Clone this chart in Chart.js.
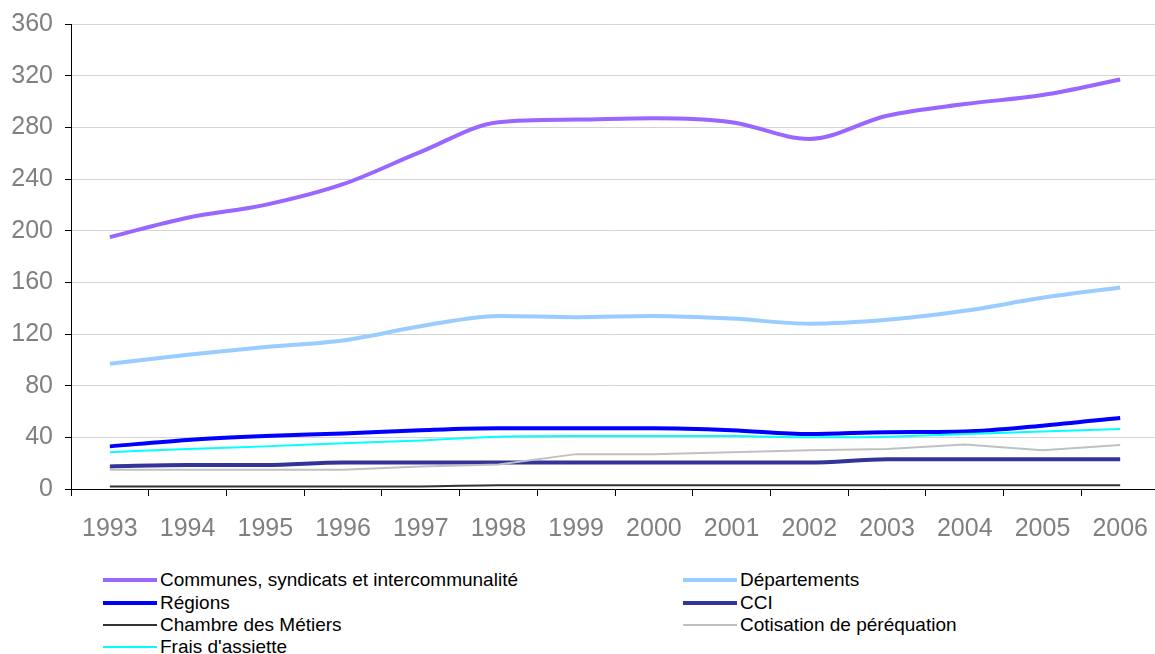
<!DOCTYPE html>
<html>
<head>
<meta charset="utf-8">
<script src="https://cdn.jsdelivr.net/npm/chart.js@4"></script>
<style>
  html, body { margin: 0; padding: 0; background: #fff; overflow: hidden; }
  #wrap { position: relative; width: 1155px; height: 654px; overflow: hidden; }
  #box { position: absolute; left: 0; top: -3px; width: 1166px; height: 563px; }
  #legend {
    position: absolute; left: 103px; top: 569px;
    display: grid; grid-template-columns: 580px 400px;
    font-family: "Liberation Sans", Arial, sans-serif; font-size: 19px; color: #000;
  }
  #legend .item { display: flex; align-items: center; height: 22.4px; }
  #legend .swatch { width: 54px; margin-right: 3px; }
</style>
</head>
<body>
<div id="wrap">
  <div id="box"><canvas id="myChart"></canvas></div>
  <div id="legend"></div>
</div>
<script>
const YEARS = [1993, 1994, 1995, 1996, 1997, 1998, 1999, 2000, 2001, 2002, 2003, 2004, 2005, 2006];

const communes = [195, 210, 220, 236, 261, 284, 286, 287, 284, 271, 289, 298, 305, 317];
const departements = [97, 104, 110, 115, 126, 134, 133, 134, 132, 128, 131, 138, 148, 156];
const regions = [33, 38, 41, 43, 45.5, 47, 47, 47, 45.5, 42.5, 44, 44.5, 49, 55];
const cci = [17.5, 18.5, 18.5, 20.5, 20.5, 20.5, 20.5, 20.5, 20.5, 20.5, 23, 23, 23, 23];
const chambre = [2, 2, 2, 2, 2, 3, 3, 3, 3, 3, 3, 3, 3, 3];
const cotisation = [15, 15, 15, 15, 17.5, 19, 27, 27, 28.5, 30, 31, 34.5, 30, 34];
const frais = [28.5, 31, 33, 35.5, 37.5, 40.5, 41, 41, 41, 40, 40.5, 42.5, 44.5, 46.5];

const Y_TICKS = [0, 40, 80, 120, 160, 200, 240, 280, 320, 360];

const toPoints = (arr) => arr.map((v, i) => ({ x: YEARS[i], y: v }));

const series = [
  { label: 'Communes, syndicats et intercommunalité', data: communes, color: '#9966ff', width: 4, smooth: true },
  { label: 'Départements', data: departements, color: '#99ccff', width: 4, smooth: true },
  { label: 'Régions', data: regions, color: '#0000ff', width: 4, smooth: true },
  { label: 'CCI', data: cci, color: '#333399', width: 4, smooth: true },
  { label: 'Chambre des Métiers', data: chambre, color: '#333333', width: 2, smooth: true },
  { label: 'Cotisation de péréquation', data: cotisation, color: '#c0c0c0', width: 2, smooth: false },
  { label: "Frais d'assiette", data: frais, color: '#00ffff', width: 2, smooth: true },
];

const tickFont = { family: '"Liberation Sans", Arial, sans-serif', size: 25 };

let ctx = document.getElementById('myChart').getContext('2d');
let myChart = new Chart(ctx, {
  type: 'line',
  data: {
    datasets: series.map((s, i) => ({
      label: s.label,
      data: toPoints(s.data),
      borderColor: s.color,
      backgroundColor: s.color,
      borderWidth: s.width,
      pointRadius: 0,
      fill: false,
      tension: s.smooth ? 0.4 : 0,
      cubicInterpolationMode: s.smooth ? 'monotone' : 'default',
      order: -i,
    })),
  },
  options: {
    responsive: true,
    maintainAspectRatio: false,
    animation: false,
    layout: { padding: { top: 21, right: 0, left: 0, bottom: 0 } },
    plugins: { legend: { display: false }, tooltip: { enabled: false } },
    scales: {
      x: {
        type: 'linear',
        min: 1992.5,
        max: 2006.5,
        afterBuildTicks: (scale) => {
          scale.ticks = YEARS.map((v) => ({ value: v }));
        },
        afterFit: (scale) => { scale.height = 71; },
        grid: {
          offset: true,
          drawOnChartArea: false,
          drawTicks: true,
          tickLength: 7,
          tickColor: '#000',
        },
        border: { color: '#000', width: 1 },
        ticks: {
          font: tickFont,
          color: '#808080',
          padding: 18,
          maxRotation: 0,
          autoSkip: false,
          callback: (v) => String(v),
        },
      },
      y: {
        min: 0,
        max: 360,
        afterBuildTicks: (scale) => {
          scale.ticks = Y_TICKS.map((v) => ({ value: v }));
        },
        afterFit: (scale) => { scale.width = 71; },
        grid: {
          color: '#d4d4d4',
          lineWidth: 1,
          tickLength: 6,
          tickColor: '#000',
        },
        border: { color: '#000', width: 1 },
        ticks: {
          font: tickFont,
          color: '#808080',
          padding: 12,
        },
      },
    },
  },
});

// legend in two columns like the original
const legend = document.getElementById('legend');
myChart.data.datasets.forEach((ds) => {
  const item = document.createElement('div');
  item.className = 'item';
  const sw = document.createElement('span');
  sw.className = 'swatch';
  sw.style.height = '0';
  sw.style.borderTop = ds.borderWidth + 'px solid ' + ds.borderColor;
  const txt = document.createElement('span');
  txt.textContent = ds.label;
  item.appendChild(sw);
  item.appendChild(txt);
  legend.appendChild(item);
});
</script>
</body>
</html>
